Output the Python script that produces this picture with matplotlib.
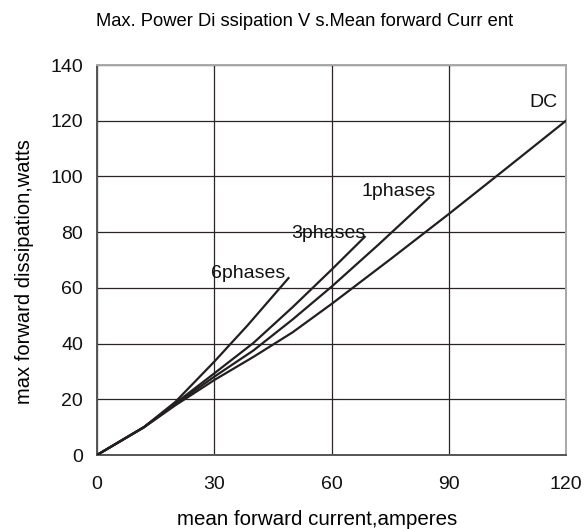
import numpy as np
import matplotlib
matplotlib.use('Agg')
import matplotlib.pyplot as plt

plt.rcParams['font.family'] = ['Liberation Sans', 'DejaVu Sans']

# curves (mean forward current A, dissipation W)
x_6ph = [0, 12, 20, 30, 38.5, 49]
y_6ph = [0, 10.0, 19.0, 33.5, 46.5, 63.5]

x_3ph = [0, 12, 20, 30, 40, 50, 60, 68.5]
y_3ph = [0, 10.0, 18.5, 29.3, 40.2, 53.0, 66.5, 78.3]

x_1ph = [0, 12, 20, 30, 40, 50, 60, 72, 85]
y_1ph = [0, 10.0, 18.2, 28.1, 37.5, 48.6, 60.4, 75.5, 92.4]

x_dc = [0, 12, 20, 30, 40, 50, 60, 75, 90, 105, 120]
y_dc = [0, 9.9, 17.8, 26.9, 35.2, 44.0, 54.2, 70.2, 86.5, 103.2, 120]

curve_labels = ['6phases', '3phases', '1phases', 'DC']
label_x = [38.7, 59.1, 77.2, 114.1]
label_y = [63.4, 78.0, 93.0, 125.0]

x_ticks = [0, 30, 60, 90, 120]
y_ticks = [0, 20, 40, 60, 80, 100, 120, 140]

line_col = '#231f20'

fig = plt.figure(figsize=(5.86, 5.29), dpi=100)
ax = fig.add_axes([97/586, 1-455/529, (566-97)/586, (455-65)/529])

for xs, ys in [(x_6ph, y_6ph), (x_3ph, y_3ph), (x_1ph, y_1ph), (x_dc, y_dc)]:
	ax.plot(xs, ys, color=line_col, lw=1.6, solid_joinstyle='round', zorder=3)

for name, lx, ly in zip(curve_labels, label_x, label_y):
	ax.text(lx, ly, name, ha='center', va='baseline', fontsize=14, color='#111111', zorder=4)

ax.set_xlim(0, 120)
ax.set_ylim(0, 140)
ax.set_xticks(x_ticks)
ax.set_yticks(y_ticks)
ax.tick_params(axis='both', length=0, labelsize=14, colors='#111111')
ax.tick_params(axis='x', pad=15)
ax.tick_params(axis='y', pad=10)
ax.grid(True, color='#2a2424', lw=0.9)
ax.set_axisbelow(True)
for side in ['top', 'right']:
	ax.spines[side].set_color('#a8a8a8')
	ax.spines[side].set_linewidth(1.4)
for side in ['left', 'bottom']:
	ax.spines[side].set_color('#555555')
	ax.spines[side].set_linewidth(1.4)

ax.set_xlabel('mean forward current,amperes', fontsize=14.8)
ax.set_ylabel('max forward dissipation,watts', fontsize=14.5)
ax.xaxis.set_label_coords((317-97)/469, -(510-455)/390)
ax.yaxis.set_label_coords(-(97-34)/469, (455-272)/390)
fig.text(305/586, 1-22/529, 'Max. Power Di ssipation V s.Mean forward Curr ent',
	ha='center', va='center', fontsize=13.2)

fig.savefig('out.png', dpi=100)
